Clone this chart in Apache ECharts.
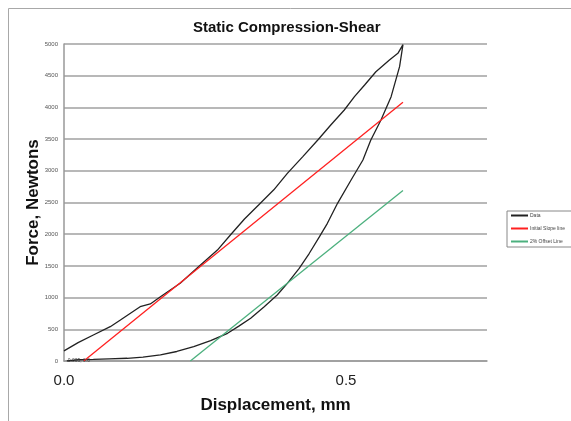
<!DOCTYPE html>
<html>
<head>
<meta charset="utf-8">
<script src="https://cdn.jsdelivr.net/npm/echarts@6/dist/echarts.min.js"></script>
<style>
  html, body { margin: 0; padding: 0; background: #fff; }
  #chart { width: 571px; height: 421px; }
</style>
</head>
<body>
<div id="chart"></div>
<script>
// measured curve, loading then unloading (mm, N)
const displacement = [
  0, 0.025, 0.052, 0.082, 0.100, 0.135, 0.153, 0.171, 0.206, 0.242, 0.272, 0.295,
  0.320, 0.345, 0.372, 0.396, 0.423, 0.450, 0.473, 0.497, 0.515, 0.533, 0.553, 0.577,
  0.592, 0.601,
  0.595, 0.580, 0.562, 0.544, 0.530, 0.509, 0.485, 0.467, 0.453, 0.435, 0.417, 0.396,
  0.378, 0.355, 0.331, 0.310, 0.290, 0.260, 0.230, 0.200, 0.171, 0.140, 0.112, 0.080,
  0.052, 0.025, 0.005
]
const force = [
  160, 290, 410, 541, 647, 857, 900, 1014, 1225, 1514, 1750, 1987,
  2240, 2460, 2700, 2960, 3220, 3486, 3722, 3959, 4169, 4353, 4563, 4748,
  4853, 4990,
  4642, 4169, 3801, 3486, 3170, 2855, 2487, 2172, 1961, 1699, 1462, 1225,
  1041, 857, 673, 550, 437, 320, 226, 150, 95, 60, 43, 35,
  27, 20, 0
]
// straight lines, two end points each
const slopeX = [0.035, 0.601]
const slopeY = [0, 4080]
const offsetX = [0.224, 0.601]
const offsetY = [0, 2690]

const seriesNames = ['Data', 'Initial Slope line', '2% Offset Line']
const yTicks = [0, 500, 1000, 1500, 2000, 2500, 3000, 3500, 4000, 4500, 5000]

function pairs (xs, ys) {
  return xs.map((x, i) => [x, ys[i]])
}

const curve = pairs(displacement, force)
const lastIdx = curve.length - 1
const curveData = curve.map((p, i) => {
  if (i !== lastIdx) return p
  return {
    value: p,
    label: {
      show: true,
      position: 'right',
      distance: 1,
      fontSize: 5,
      color: '#444',
      formatter: p[0].toFixed(3) + ', ' + p[1].toFixed(1)
    }
  }
})

const chart = echarts.init(document.getElementById('chart'))
chart.setOption({
  animation: false,
  textStyle: { fontFamily: 'Liberation Sans, Arial, sans-serif' },
  graphic: [{
    type: 'rect',
    shape: { x: 8.5, y: 8.5, width: 700, height: 600 },
    style: { fill: 'none', stroke: '#a8a8a8', lineWidth: 1 },
    silent: true
  }],
  title: {
    text: 'Static Compression-Shear',
    left: 188,
    top: 15,
    textStyle: { fontSize: 15, fontWeight: 'bold', color: '#111' }
  },
  legend: {
    orient: 'vertical',
    left: 507,
    top: 211,
    data: seriesNames,
    icon: 'rect',
    itemWidth: 17,
    itemHeight: 2,
    itemGap: 8,
    padding: [2, 60, 3, 4],
    borderColor: '#888',
    borderWidth: 1,
    textStyle: { fontSize: 5, color: '#444', padding: [0, 0, 0, -3] }
  },
  grid: {
    left: 64,
    right: 84,
    top: 44,
    bottom: 60
  },
  xAxis: {
    type: 'value',
    min: 0,
    max: 0.75,
    interval: 0.5,
    name: 'Displacement, mm',
    nameLocation: 'middle',
    nameGap: 36,
    nameMoveOverlap: false,
    nameTextStyle: { fontSize: 17, fontWeight: 'bold', color: '#111' },
    axisLine: { show: true, lineStyle: { color: '#999', width: 1.5 } },
    axisTick: { show: false },
    splitLine: { show: false },
    axisLabel: {
      fontSize: 15,
      color: '#222',
      margin: 12,
      showMaxLabel: false,
      formatter: v => v.toFixed(1)
    }
  },
  yAxis: {
    type: 'value',
    min: yTicks[0],
    max: yTicks[yTicks.length - 1],
    interval: 500,
    name: 'Force, Newtons',
    nameLocation: 'middle',
    nameGap: 22,
    nameMoveOverlap: false,
    nameTextStyle: { fontSize: 17, fontWeight: 'bold', color: '#111' },
    axisLine: { show: true, lineStyle: { color: '#999', width: 1.5 } },
    axisTick: { show: false },
    splitLine: { show: true, lineStyle: { color: '#a0a0a0', width: 1.5 } },
    axisLabel: { fontSize: 6, color: '#555', margin: 6, formatter: v => String(v) }
  },
  series: [
    {
      name: seriesNames[0],
      type: 'line',
      data: curveData,
      showSymbol: true,
      symbol: 'circle',
      symbolSize: 0,
      lineStyle: { color: '#222', width: 1.3 },
      itemStyle: { color: '#222' }
    },
    {
      name: seriesNames[1],
      type: 'line',
      data: pairs(slopeX, slopeY),
      symbol: 'none',
      lineStyle: { color: '#ff2020', width: 1.3 },
      itemStyle: { color: '#ff2020' }
    },
    {
      name: seriesNames[2],
      type: 'line',
      data: pairs(offsetX, offsetY),
      symbol: 'none',
      lineStyle: { color: '#4cb07e', width: 1.3 },
      itemStyle: { color: '#4cb07e' }
    }
  ]
})
</script>
</body>
</html>
